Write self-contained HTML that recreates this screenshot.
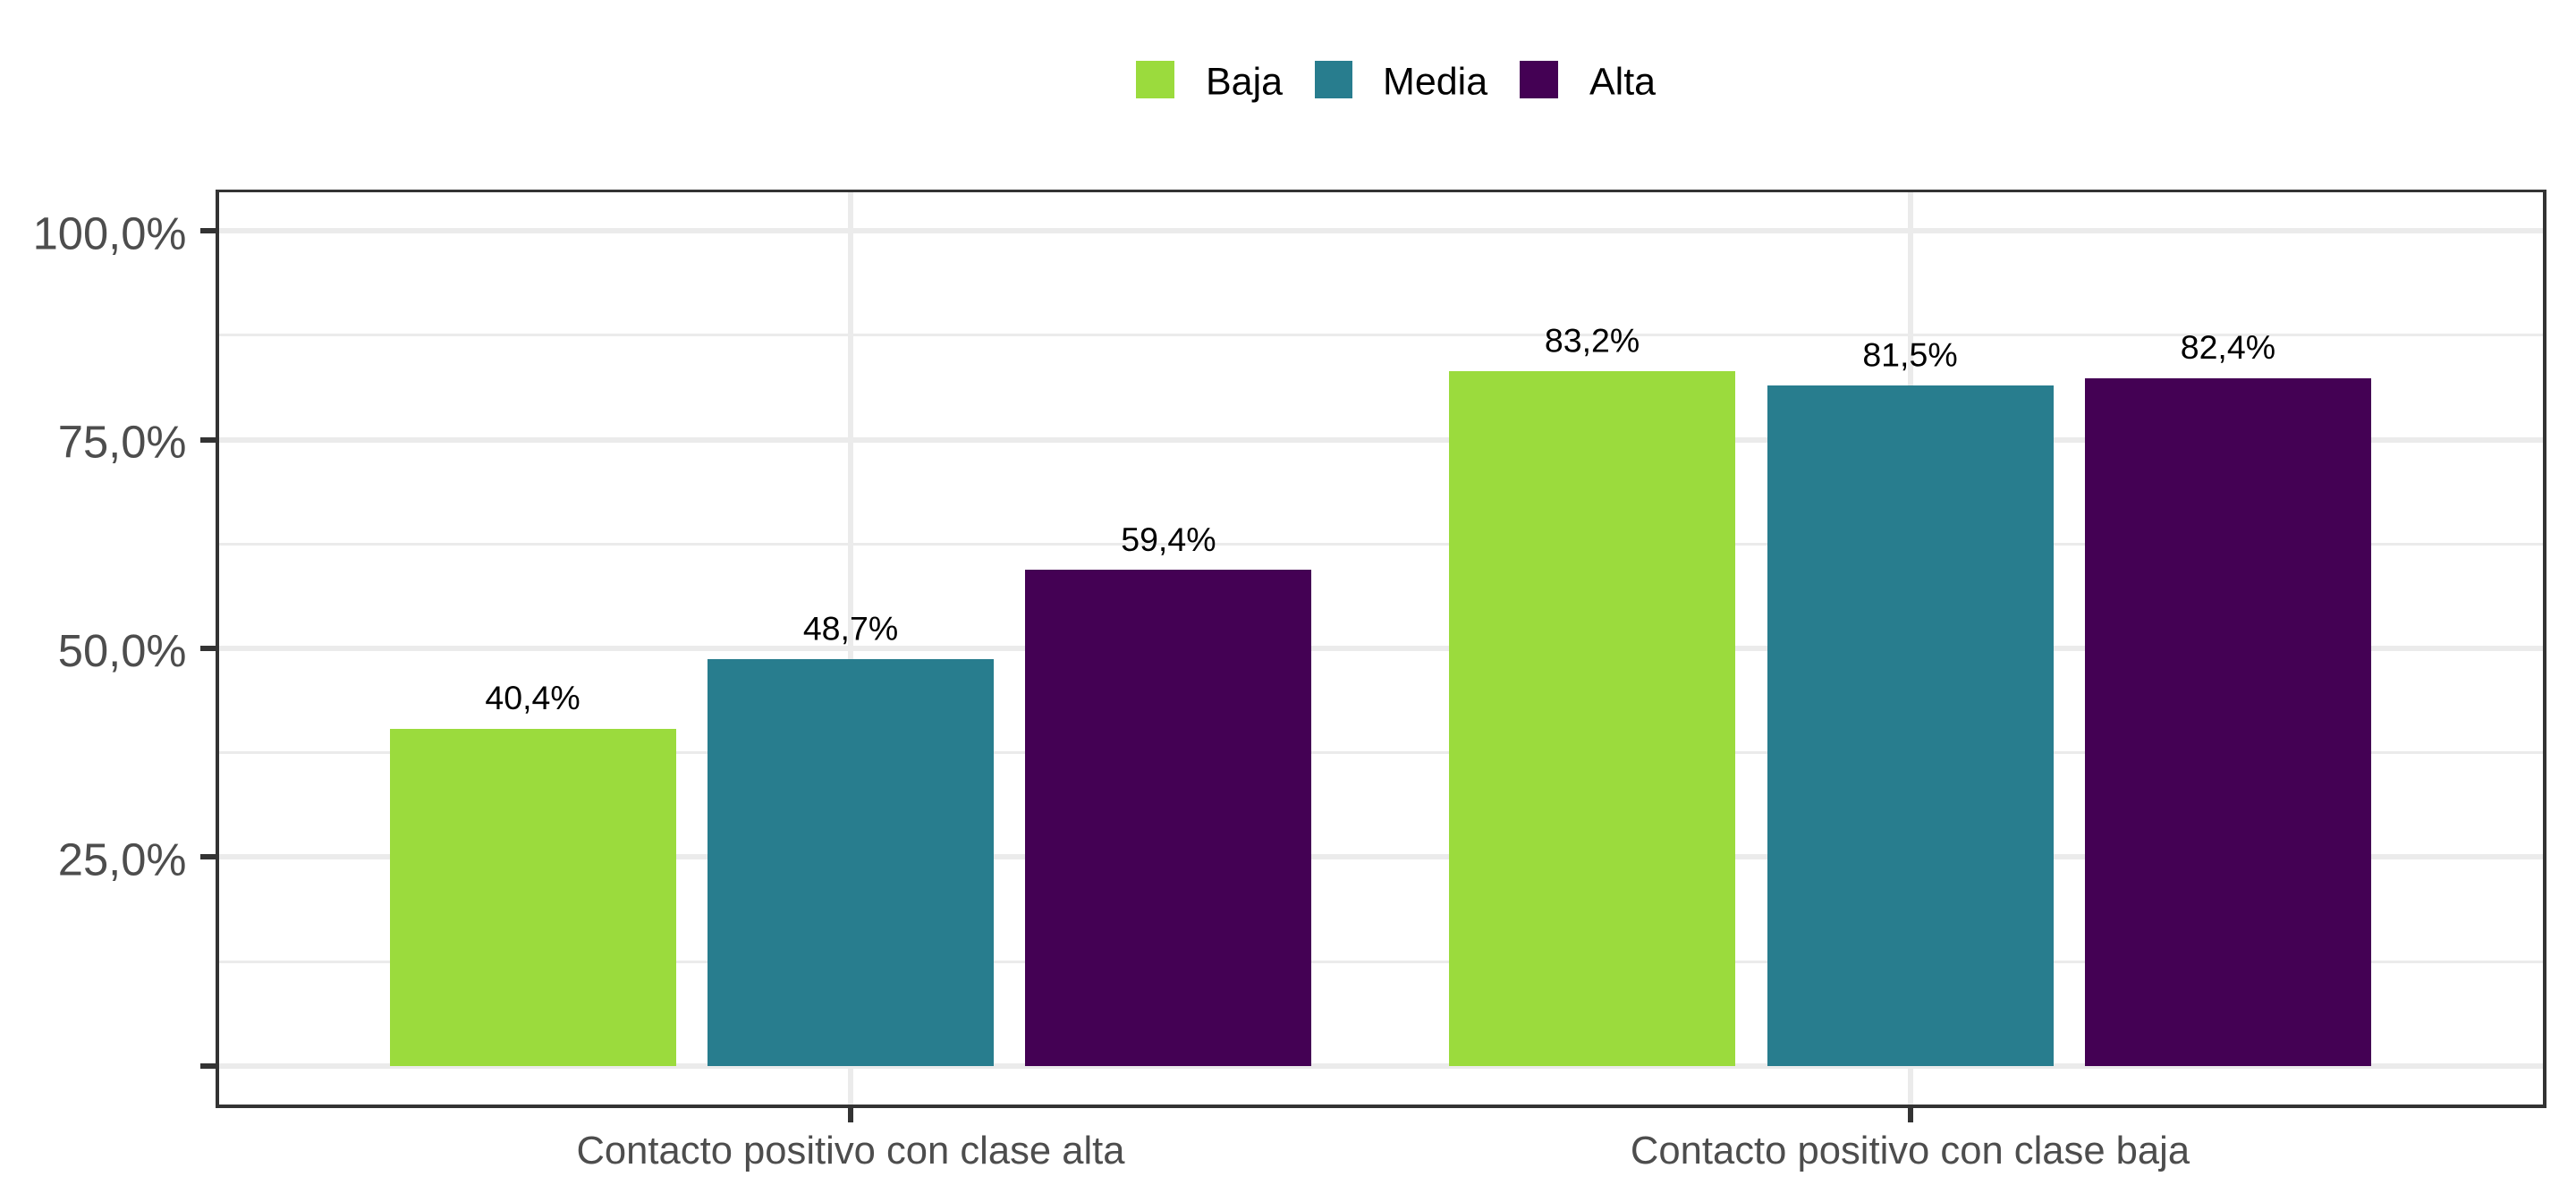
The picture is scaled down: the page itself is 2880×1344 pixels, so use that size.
<!DOCTYPE html>
<html lang="es">
<head>
<meta charset="utf-8">
<title>Contacto positivo por clase</title>
<style>
  html, body { margin: 0; padding: 0; background: #ffffff; }
  body { width: 2880px; height: 1344px; overflow: hidden; }
  svg { display: block; font-family: "Liberation Sans", Arial, sans-serif; }
</style>
</head>
<body>
<svg id="chart" xmlns="http://www.w3.org/2000/svg" width="2880" height="1344" viewBox="0 0 2880 1344">
  <rect x="0" y="0" width="2880" height="1344" fill="#ffffff"/>
  <g>
    <g>
      <rect x="1270" y="68" width="43" height="42" fill="#9BDB3D"/>
      <text x="1348" y="105.5" font-size="43" fill="#000000">Baja</text>
    </g>
    <g>
      <rect x="1470" y="68" width="42" height="42" fill="#287D8E"/>
      <text x="1546" y="105.5" font-size="43" fill="#000000">Media</text>
    </g>
    <g>
      <rect x="1699" y="68" width="43" height="42" fill="#440154"/>
      <text x="1777" y="105.5" font-size="43" fill="#000000">Alta</text>
    </g>
  </g>
  <g id="grid"></g>
  <g id="bars"></g>
  <g id="labels"></g>
  <g fill="#333333">
    <rect x="241" y="212" width="2606" height="3"/>
    <rect x="241" y="1235" width="2606" height="4"/>
    <rect x="241" y="212" width="4" height="1027"/>
    <rect x="2843" y="212" width="4" height="1027"/>
  </g>
  <g id="axes"></g>
</svg>
<script>
const categories = ["Contacto positivo con clase alta", "Contacto positivo con clase baja"];
const seriesNames = ["Baja", "Media", "Alta"];
const seriesColors = ["#9BDB3D", "#287D8E", "#440154"];
const baja = [40.4, 83.2];
const media = [48.7, 81.5];
const alta = [59.4, 82.4];
const yTicks = [0, 25, 50, 75, 100];
const yTickLabels = ["", "25,0%", "50,0%", "75,0%", "100,0%"];
const yMinorTicks = [12.5, 37.5, 62.5, 87.5];

const NS = "http://www.w3.org/2000/svg";
const series = [baja, media, alta];
const panel = { left: 245, right: 2843, top: 215, bottom: 1235 };

function yScale(v) { return 1191.8 - v * 9.335; }
function xCenter(i) { return 951 + i * 1184.5; }
function barCenter(i, s) { return xCenter(i) + (s - 1) * 355.4; }
const barWidth = 320;

function add(parent, tag, attrs, text) {
  const el = document.createElementNS(NS, tag);
  for (const k in attrs) el.setAttribute(k, attrs[k]);
  if (text !== undefined) el.textContent = text;
  parent.appendChild(el);
  return el;
}

const grid = document.getElementById("grid");
const barsG = document.getElementById("bars");
const labelsG = document.getElementById("labels");
const axes = document.getElementById("axes");

yMinorTicks.forEach(function (v) {
  const el = add(grid, "rect", { x: panel.left, y: Math.round(yScale(v) - 1.5), width: panel.right - panel.left, height: 3, fill: "#EBEBEB" });
  
  
});
yTicks.forEach(function (v) {
  const el = add(grid, "rect", { x: panel.left, y: Math.round(yScale(v) - 3), width: panel.right - panel.left, height: 6, fill: "#EBEBEB" });
  
  
});
categories.forEach(function (c, i) {
  const el = add(grid, "rect", { x: Math.round(xCenter(i) - 3), y: panel.top, width: 6, height: panel.bottom - panel.top, fill: "#EBEBEB" });
  
  
});

series.forEach(function (vals, s) {
  vals.forEach(function (v, i) {
    const top = Math.round(yScale(v));
    const bar = add(barsG, "rect", {
      x: Math.round(barCenter(i, s) - barWidth / 2),
      y: top,
      width: barWidth,
      height: Math.round(yScale(0)) - top,
      fill: seriesColors[s]
    });
    
    

    const label = add(labelsG, "text", {
      x: barCenter(i, s),
      y: yScale(v) - 21.5,
      "text-anchor": "middle",
      "font-size": 37.5,
      fill: "#000000"
    }, v.toFixed(1).replace(".", ",") + "%");
    
    
  });
});

yTicks.forEach(function (v, i) {
  const tick = add(axes, "rect", { x: 224, y: Math.round(yScale(v) - 3), width: 17, height: 6, fill: "#333333" });
  
  
  if (yTickLabels[i]) {
    const t = add(axes, "text", { x: 208.5, y: yScale(v) + 20, "text-anchor": "end", "font-size": 50.7, fill: "#4D4D4D" }, yTickLabels[i]);
    
    
  }
});

categories.forEach(function (c, i) {
  const tick = add(axes, "rect", { x: Math.round(xCenter(i) - 3), y: 1239, width: 6, height: 16, fill: "#333333" });
  
  
  const t = add(axes, "text", { x: xCenter(i), y: 1301, "text-anchor": "middle", "font-size": 43.6, fill: "#4D4D4D" }, c);
  
  
});
</script>
</body>
</html>
